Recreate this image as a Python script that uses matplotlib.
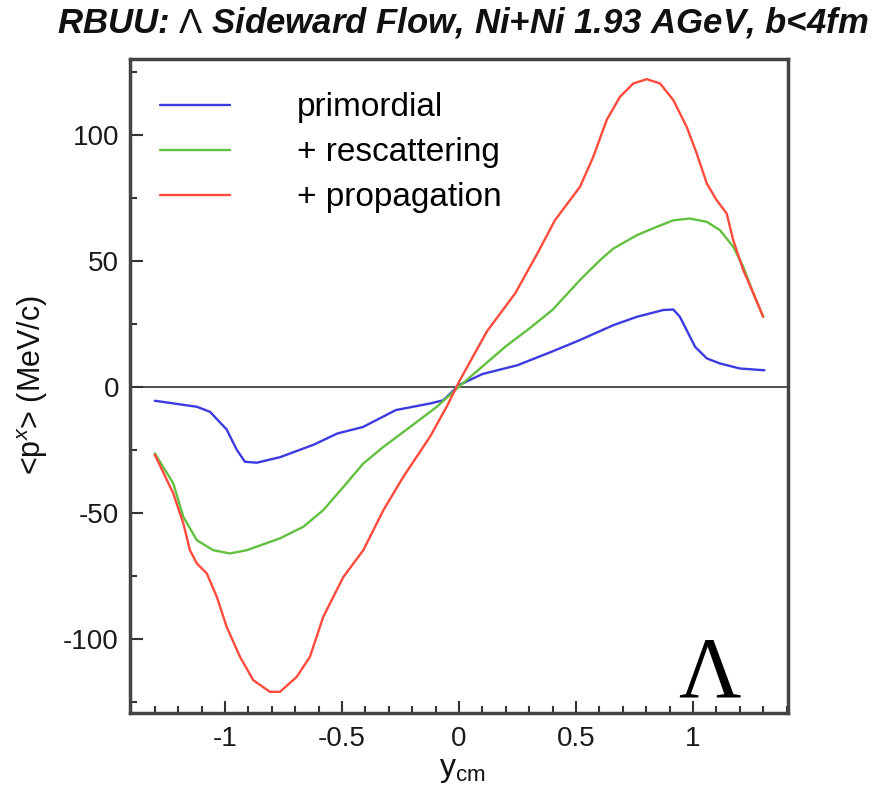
import matplotlib
matplotlib.use("Agg")
import matplotlib.pyplot as plt
from matplotlib import font_manager
from matplotlib.ticker import MultipleLocator

# rapidity points and mean in-plane momentum <p^x> (MeV/c)
y_primordial = [-1.30, -1.12, -1.064, -0.993, -0.95, -0.915, -0.865, -0.765, -0.62, -0.52,
                -0.41, -0.27, -0.124, -0.067, 0.0, 0.1, 0.25, 0.4, 0.517, 0.66, 0.76,
                0.873, 0.916, 0.944, 0.973, 1.009, 1.059, 1.115, 1.20, 1.305]
px_primordial = [-5.6, -8.0, -10.0, -17.0, -25.0, -29.8, -30.2, -28.0, -23.0, -18.6,
                 -16.0, -9.3, -6.7, -5.4, 0.6, 5.0, 8.5, 14.0, 18.5, 24.4, 27.7,
                 30.4, 30.6, 27.7, 22.4, 15.8, 11.2, 9.2, 7.2, 6.5]

y_rescatter = [-1.30, -1.221, -1.178, -1.12, -1.05, -0.979, -0.907, -0.765, -0.665, -0.58,
               -0.494, -0.409, -0.323, -0.209, -0.095, 0.0, 0.1, 0.2, 0.3, 0.4, 0.517,
               0.603, 0.66, 0.76, 0.845, 0.916, 0.987, 1.059, 1.115, 1.172, 1.215, 1.258, 1.30]
px_rescatter = [-26.5, -38.4, -51.7, -61.0, -64.9, -66.2, -64.9, -60.2, -55.6, -49.0,
                -39.8, -30.5, -23.9, -16.0, -8.0, 0.0, 8.0, 16.0, 23.0, 30.5, 42.3,
                50.2, 54.8, 60.1, 63.4, 66.0, 66.7, 65.4, 62.1, 55.5, 47.5, 37.0, 27.7]

y_propagation = [-1.30, -1.221, -1.178, -1.15, -1.12, -1.078, -1.035, -0.993, -0.936, -0.879,
                 -0.808, -0.765, -0.694, -0.637, -0.58, -0.494, -0.409, -0.323, -0.238,
                 -0.124, -0.053, 0.004, 0.06, 0.12, 0.24, 0.33, 0.41, 0.517, 0.574, 0.631,
                 0.688, 0.745, 0.802, 0.859, 0.916, 0.973, 1.016, 1.059, 1.101, 1.144,
                 1.172, 1.215, 1.258, 1.30]
px_propagation = [-27.0, -42.4, -54.3, -64.9, -70.2, -74.1, -83.4, -95.3, -107.2, -116.5,
                  -121.1, -121.1, -115.2, -107.2, -91.3, -75.5, -64.9, -49.0, -35.8,
                  -19.9, -8.0, 2.6, 12.0, 22.0, 37.0, 52.0, 66.0, 79.3, 91.2, 105.8,
                  115.0, 120.3, 122.0, 120.3, 113.7, 103.1, 92.5, 80.6, 74.0, 68.7,
                  58.1, 46.2, 37.0, 27.7]

series_labels = ["primordial", "+ rescattering", "+ propagation"]
series_colors = ["#3b3be0", "#62c040", "#ff4a3c"]

xticks = [-1, -0.5, 0, 0.5, 1]
xticklabels = ["-1", "-0.5", "0", "0.5", "1"]
yticks = [-100, -50, 0, 50, 100]


def pick(*names):
    have = {f.name for f in font_manager.fontManager.ttflist}
    for n in names:
        if n in have:
            return n
    return "DejaVu Sans"


sans = pick("Liberation Sans", "DejaVu Sans")
serif = pick("Liberation Serif", "DejaVu Serif")

plt.rcParams["axes.unicode_minus"] = False
plt.rcParams["mathtext.fontset"] = "custom"
plt.rcParams["mathtext.rm"] = sans
plt.rcParams["mathtext.it"] = sans + ":italic"

fig = plt.figure(figsize=(8.89, 7.94), dpi=100)
ax = fig.add_axes([130 / 889, 1 - 713 / 794, 658 / 889, 654 / 794])

ax.axhline(0, color="#333333", lw=1.2, zorder=1)

curves = [(y_primordial, px_primordial), (y_rescatter, px_rescatter), (y_propagation, px_propagation)]
for (xs, ys), lab, col in zip(curves, series_labels, series_colors):
    ax.plot(xs, ys, color=col, lw=1.7, label=lab, zorder=3,
            solid_joinstyle="round", solid_capstyle="round")

ax.set_xlim(-1.406, 1.406)
ax.set_ylim(-129.5, 130)

ax.set_xticks(xticks)
ax.set_xticklabels(xticklabels)
ax.set_yticks(yticks)
ax.xaxis.set_minor_locator(MultipleLocator(0.1))
ax.yaxis.set_minor_locator(MultipleLocator(25))
ax.tick_params(which="both", direction="in", top=False, right=False, color="#333333", width=1.5)
ax.tick_params(which="major", length=9)
ax.tick_params(which="minor", length=5)
ax.tick_params(axis="x", pad=9)
ax.tick_params(axis="y", pad=8)
for lbl in ax.get_xticklabels() + ax.get_yticklabels():
    lbl.set_fontfamily(sans)
    lbl.set_fontsize(20)
    lbl.set_color("#1a1a1a")

for sp in ax.spines.values():
    sp.set_color("#444444")
    sp.set_linewidth(2.5)

leg = ax.legend(loc="upper left", bbox_to_anchor=(0.0, 0.995), frameon=False,
                handlelength=2.1, handletextpad=2.0, labelspacing=0.42,
                prop={"family": sans, "size": 24})

ax.text(1.07, -123, "\u039b", family=serif, fontsize=62, ha="center", va="baseline",
        color="black")

fig.text(33 / 889, 1 - 385 / 794, "<p$^{x}$> (MeV/c)", rotation=90, ha="center",
         va="center", family=sans, fontsize=22, color="#111111")
fig.text(462 / 889, 1 - 770 / 794, "y$_{\\rm cm}$", ha="center", va="center",
         family=sans, fontsize=23, color="#111111")

fig.text(463 / 889, 1 - 22 / 794, "RBUU: $\\Lambda$ Sideward Flow, Ni+Ni 1.93 AGeV, b<4fm",
         ha="center", va="center", family=sans, fontsize=25, fontweight="bold",
         fontstyle="italic", color="#111111")

fig.savefig("out.png", dpi=100)
